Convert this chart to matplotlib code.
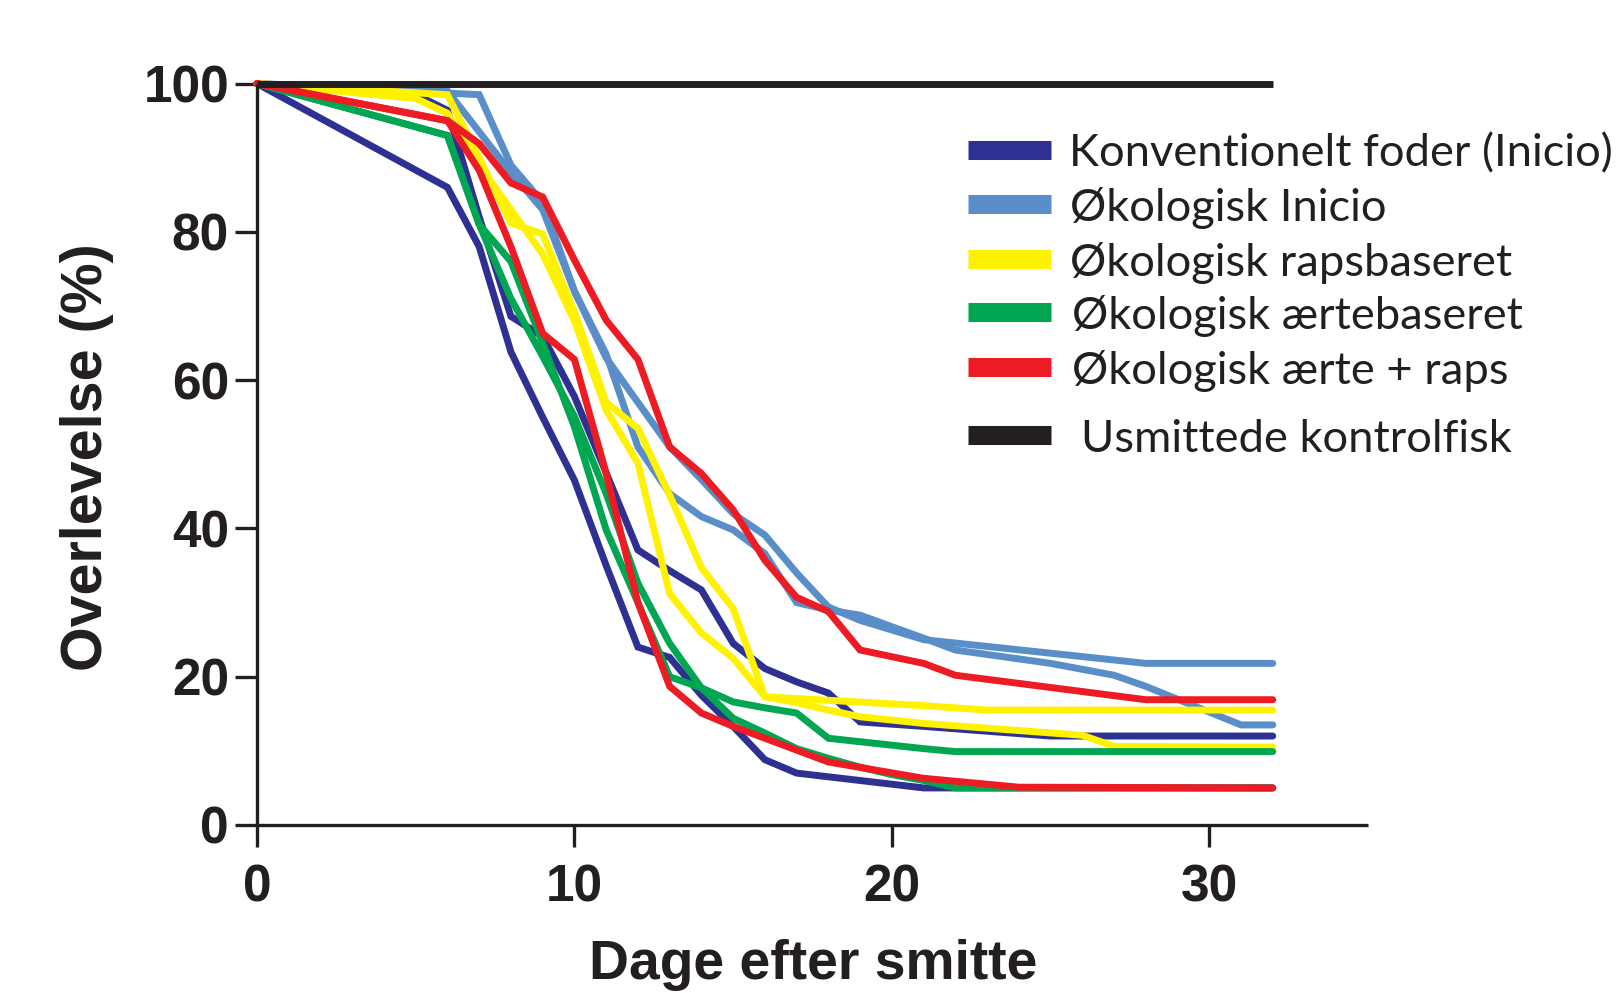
import matplotlib
matplotlib.use("Agg")
import matplotlib.pyplot as plt
from matplotlib.lines import Line2D

# ---------------- data ----------------
ctrl_days = [0, 32]
ctrl_vals = [100, 100]

konv_a_days = [0, 6, 7, 8, 9, 10, 11, 12, 13, 14, 15, 16, 17, 21, 32]
konv_a_vals = [100, 86, 78, 63.8, 55, 46.5, 35, 24, 22.6, 17.5, 13.3, 8.8, 7, 5, 5]
konv_b_days = [0, 5, 6, 7, 8, 9, 10, 11, 12, 13, 14, 15, 16, 17, 18, 19, 21, 25, 32]
konv_b_vals = [100, 98.5, 96.4, 82, 68.6, 65.9, 57.8, 47.5, 37.1, 34.3, 31.7, 24.5, 21.1, 19.3, 17.8, 13.9, 13.3, 12, 12]

oko_a_days = [0, 7, 8, 9, 10, 11, 12, 13, 14, 15, 16, 17, 18, 19, 21, 22, 25, 27, 28, 31, 32]
oko_a_vals = [100, 98.5, 89, 84, 72, 63.5, 51, 44.7, 41.6, 39.8, 36.6, 30, 29, 28.3, 25.2, 23.6, 21.8, 20.2, 18.7, 13.5, 13.5]
oko_b_days = [0, 6, 8, 9, 10, 11, 12, 13, 14, 15, 16, 17, 18, 19, 21, 28, 32]
oko_b_vals = [100, 99, 88, 83, 72, 63, 57, 51, 46.6, 42, 39.1, 34, 29.4, 27.6, 25, 21.8, 21.8]

raps_a_days = [0, 6, 7, 8, 9, 10, 11, 12, 13, 14, 15, 16, 21, 23, 32]
raps_a_vals = [100, 98.5, 90, 81.2, 79.7, 69.2, 57, 53.5, 44.5, 34.7, 29.2, 17.3, 16.1, 15.5, 15.5]
raps_b_days = [0, 5, 6, 7, 8, 9, 10, 11, 12, 13, 14, 15, 16, 17, 18, 19, 21, 26, 27, 32]
raps_b_vals = [100, 98, 96, 89, 83, 77, 68, 56, 48.8, 31.2, 25.9, 22.5, 17.3, 16.5, 15.5, 14.6, 13.7, 12.1, 10.6, 10.5]

aerte_a_days = [0, 6, 7, 8, 9, 10, 11, 12, 13, 14, 15, 16, 17, 18, 19, 20, 21, 22, 32]
aerte_a_vals = [100, 93, 81, 71, 63.2, 55.1, 44.7, 32.6, 24.5, 18.5, 14.4, 12.4, 10.3, 9, 7.8, 6.8, 6, 5, 5]
aerte_b_days = [0, 6, 7, 8, 9, 10, 11, 12, 13, 14, 15, 16, 17, 18, 21, 22, 32]
aerte_b_vals = [100, 93, 81, 76, 65, 53.7, 39.8, 30, 20, 18.5, 16.6, 15.8, 15.1, 11.7, 10.3, 9.9, 9.9]

mix_a_days = [0, 6, 7, 8, 9, 10, 11, 12, 13, 14, 15, 16, 17, 18, 21, 24, 32]
mix_a_vals = [100, 95, 88.3, 78, 66.3, 62.8, 47.4, 30, 18.7, 15.1, 13.3, 11.7, 10.1, 8.5, 6.3, 5.1, 5]
mix_b_days = [0, 6, 7, 8, 9, 10, 11, 12, 13, 14, 15, 16, 17, 18, 19, 21, 22, 28, 32]
mix_b_vals = [100, 95, 91.9, 86.6, 84.7, 76.2, 68.1, 62.8, 51, 47.4, 42.5, 35.7, 30.7, 28.8, 23.6, 21.8, 20.2, 16.9, 16.9]

labels = ["Konventionelt foder (Inicio)", "Økologisk Inicio", "Økologisk rapsbaseret",
          "Økologisk ærtebaseret", "Økologisk ærte + raps", "Usmittede kontrolfisk"]
colors = ["#2E3192", "#5A8EC8", "#FFF200", "#00A651", "#ED1C24", "#231F20"]

x_ticks = [0, 10, 20, 30]
y_ticks = [0, 20, 40, 60, 80, 100]

# ---------------- figure ----------------
W, H = 1619, 993
fig = plt.figure(figsize=(W / 100, H / 100), dpi=100)
ax = fig.add_axes([257 / W, 1 - 825 / H, (1368 - 257) / W, (825 - 83.6) / H])

LW = 5.0
kw = dict(lw=LW, solid_capstyle="round", solid_joinstyle="miter", clip_on=False)
series = [
    (konv_a_days, konv_a_vals, konv_b_days, konv_b_vals, colors[0]),
    (oko_a_days, oko_a_vals, oko_b_days, oko_b_vals, colors[1]),
    (raps_a_days, raps_a_vals, raps_b_days, raps_b_vals, colors[2]),
    (aerte_a_days, aerte_a_vals, aerte_b_days, aerte_b_vals, colors[3]),
    (mix_a_days, mix_a_vals, mix_b_days, mix_b_vals, colors[4]),
]
for xa, ya, xb, yb, c in series:
    ax.plot(xa, ya, color=c, **kw)
    ax.plot(xb, yb, color=c, **kw)
ax.plot(ctrl_days, ctrl_vals, color=colors[5], lw=LW, solid_capstyle="butt", clip_on=False)

ax.set_xlim(0, 35)
ax.set_ylim(0, 100)
for s in ["top", "right"]:
    ax.spines[s].set_visible(False)
for s in ["left", "bottom"]:
    ax.spines[s].set_linewidth(2.4)
    ax.spines[s].set_color("#231F20")
    ax.spines[s].set_capstyle("butt")

ax.set_xticks(x_ticks)
ax.set_yticks(y_ticks)
ax.tick_params(axis="both", direction="out", length=15.8, width=2.4, color="#231F20")
ax.tick_params(axis="x", pad=12)
ax.tick_params(axis="y", pad=4.3)
for lab in ax.get_xticklabels() + ax.get_yticklabels():
    lab.set_fontfamily("Liberation Sans")
    lab.set_fontweight("bold")
    lab.set_fontsize(37)
    lab.set_color("#231F20")

fig.text(813 / W, 1 - 965 / H, "Dage efter smitte", ha="center", va="center",
         fontsize=39.8, fontweight="bold", family="Liberation Sans", color="#231F20")
fig.text(87 / W, 1 - 457 / H, "Overlevelse (%)", ha="center", va="center", rotation=90,
         fontsize=41.3, fontweight="bold", family="Liberation Sans", color="#231F20")

# ---------------- legend ----------------
row_y = [149.7, 204.4, 259.2, 311.8, 366.5, 434.7]
text_x = [1068.6, 1070, 1070, 1072, 1072, 1081]
for lab, c, yy, tx in zip(labels, colors, row_y, text_x):
    fig.add_artist(Line2D([968 / W, 1051 / W], [1 - yy / H, 1 - yy / H],
                          transform=fig.transFigure, color=c, lw=13.7,
                          solid_capstyle="butt"))
    fig.text(tx / W, 1 - (yy + 17) / H, lab, ha="left", va="baseline",
             fontsize=32.6, family="Lato", color="#231F20")

fig.savefig("out.png", dpi=100)
